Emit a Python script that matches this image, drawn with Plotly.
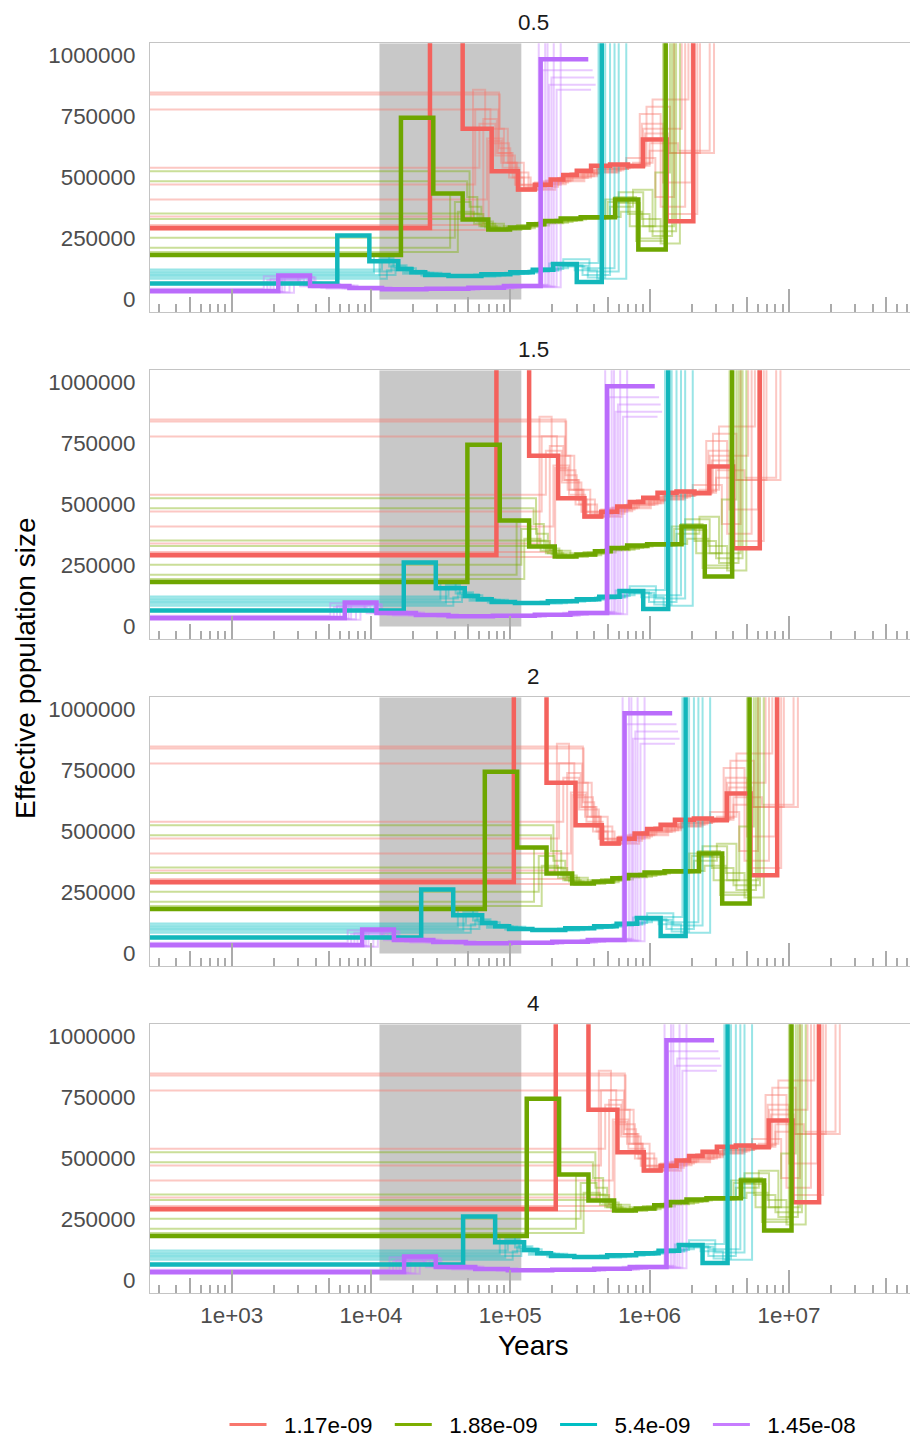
import plotly.graph_objects as go

# Generation times (years) shown in each facet
GEN_TIMES = [0.5, 1.5, 2, 4]
# Mutation rates (legend) and their colours
RATES = ["1.17e-09", "1.88e-09", "5.4e-09", "1.45e-08"]
COLORS = ["#F8766D", "#7CAE00", "#00BFC4", "#C77CFF"]
MAIN_COLORS = ["#F4625D", "#6EA600", "#12B7BB", "#BA6CFB"]

# Last glacial period, in years
GLACIAL = [11500, 120000]

# ---- main PSMC estimates: step start times (generations) and Ne per step ----
red_t = [20, 53000, 91000, 147000, 227000, 300000, 390000, 480000, 600000, 760000,
         1040000, 1400000, 1790000, 2650000, 4120000, 12000000]
red_ne = [293000, 2600000, 700000, 526000, 451000, 470000, 492000, 510000, 528000,
          548000, 553000, 546000, 656000, 321000, 2600000]

green_t = [20, 32800, 56000, 91000, 139000, 199000, 270000, 350000, 460000, 640000,
           1130000, 1660000, 2610000, 12000000]
green_ne = [182000, 745000, 434000, 328000, 287000, 295000, 308000, 322000, 332000,
            337000, 410000, 205000, 2600000]

cyan_t = [20, 11460, 19460, 31400, 39000, 49000, 72000, 124000, 200000, 290000,
          405000, 600000, 907000, 12000000]
cyan_ne = [66000, 262000, 157000, 125000, 112000, 100000, 96000, 103000, 112000,
           122000, 145000, 72000, 2600000]

purple_t = [20, 4320, 7300, 14000, 24000, 50000, 100000, 180000, 330400, 726000]
purple_ne = [35000, 98000, 55000, 47000, 42000, 44000, 48000, 55000, 985000]

# ---- bootstrap replicates ----
red_boot_t = [
    [20, 166000, 200000, 236000, 320000, 480000, 800000, 1400000, 1900000, 2800000, 4600000, 12000000],
    [20, 168000, 192000, 224000, 300000, 460000, 760000, 1300000, 1800000, 3400000, 12000000],
    [20, 164000, 208000, 250000, 360000, 560000, 900000, 1520000, 2100000, 3800000, 12000000],
    [20, 120000, 156000, 216000, 300000, 520000, 840000, 1440000, 2000000, 3200000, 5400000, 12000000],
    [20, 112000, 144000, 196000, 280000, 440000, 720000, 1240000, 1760000, 2500000, 4000000, 12000000],
    [20, 136000, 176000, 230000, 340000, 540000, 880000, 1360000, 2200000, 3000000, 12000000],
    [20, 108000, 132000, 180000, 250000, 400000, 660000, 1160000, 1700000, 2400000, 3600000, 12000000],
    [20, 128000, 160000, 204000, 270000, 420000, 680000, 1200000, 1860000, 2700000, 5800000, 12000000],
    [20, 140000, 172000, 220000, 320000, 500000, 840000, 1400000, 2000000, 2600000, 4400000, 12000000],
]
red_boot_ne = [
    [848000, 620000, 520000, 455000, 478000, 505000, 535000, 552000, 790000, 600000, 2600000],
    [840000, 700000, 560000, 445000, 470000, 500000, 530000, 545000, 700000, 2600000],
    [779000, 600000, 500000, 462000, 488000, 515000, 542000, 560000, 820000, 2600000],
    [540000, 720000, 590000, 470000, 480000, 512000, 538000, 548000, 640000, 610000, 2600000],
    [471000, 780000, 640000, 500000, 462000, 498000, 528000, 550000, 720000, 480000, 2600000],
    [410000, 660000, 540000, 450000, 485000, 518000, 545000, 580000, 420000, 2600000],
    [340000, 860000, 700000, 560000, 455000, 492000, 522000, 548000, 760000, 380000, 2600000],
    [305000, 740000, 600000, 520000, 450000, 485000, 520000, 545000, 680000, 600000, 2600000],
    [285000, 650000, 560000, 470000, 472000, 505000, 535000, 555000, 610000, 350000, 2600000],
]

green_boot_t = [
    [20, 102000, 124000, 160000, 220000, 340000, 600000, 1120000, 1600000, 2600000, 12000000],
    [20, 98000, 116000, 150000, 210000, 320000, 560000, 1040000, 1520000, 2100000, 2900000, 12000000],
    [20, 120000, 144000, 190000, 280000, 420000, 700000, 1200000, 1800000, 3000000, 12000000],
    [20, 132000, 168000, 224000, 360000, 640000, 1240000, 1760000, 2400000, 3300000, 12000000],
    [20, 80000, 104000, 136000, 190000, 300000, 520000, 1000000, 1440000, 2200000, 2800000, 12000000],
    [20, 74000, 92000, 128000, 180000, 280000, 480000, 960000, 1400000, 2000000, 3100000, 12000000],
    [20, 84000, 110000, 156000, 240000, 380000, 660000, 1160000, 1700000, 2500000, 12000000],
]
green_boot_ne = [
    [526000, 380000, 300000, 288000, 300000, 322000, 335000, 420000, 240000, 2600000],
    [485000, 420000, 320000, 292000, 298000, 318000, 332000, 380000, 450000, 260000, 2600000],
    [352000, 300000, 282000, 296000, 312000, 328000, 340000, 440000, 300000, 2600000],
    [330000, 295000, 290000, 305000, 325000, 338000, 360000, 330000, 230000, 2600000],
    [253000, 400000, 330000, 300000, 292000, 315000, 333000, 400000, 300000, 520000, 2600000],
    [212000, 430000, 350000, 310000, 290000, 312000, 330000, 410000, 350000, 280000, 2600000],
    [195000, 360000, 310000, 285000, 303000, 324000, 338000, 395000, 250000, 2600000],
]

cyan_boot_t = [
    [20, 24000, 31000, 42000, 60000, 110000, 200000, 340000, 520000, 860000, 12000000],
    [20, 28000, 36000, 48000, 72000, 140000, 250000, 420000, 660000, 1040000, 12000000],
    [20, 21000, 27000, 35000, 52000, 96000, 184000, 320000, 480000, 740000, 1200000, 12000000],
    [20, 30000, 40000, 56000, 90000, 170000, 280000, 460000, 720000, 960000, 12000000],
    [20, 23000, 29000, 39000, 64000, 124000, 230000, 380000, 580000, 840000, 1360000, 12000000],
    [20, 26000, 34000, 46000, 80000, 156000, 270000, 440000, 680000, 1120000, 12000000],
]
cyan_boot_ne = [
    [123000, 160000, 128000, 108000, 98000, 102000, 113000, 128000, 150000, 2600000],
    [115000, 140000, 118000, 104000, 96000, 105000, 117000, 140000, 100000, 2600000],
    [108000, 185000, 135000, 112000, 100000, 98000, 110000, 125000, 165000, 115000, 2600000],
    [100000, 128000, 110000, 100000, 95000, 106000, 120000, 138000, 90000, 2600000],
    [93000, 170000, 130000, 110000, 97000, 101000, 114000, 148000, 120000, 85000, 2600000],
    [85000, 120000, 106000, 98000, 94000, 104000, 119000, 135000, 128000, 2600000],
]

purple_boot_t = [
    [20, 3800, 6600, 13000, 30000, 80000, 180000, 340000, 780000],
    [20, 4800, 8000, 16000, 40000, 100000, 220000, 356000, 12000000],
    [20, 4000, 7600, 14000, 36000, 90000, 200000, 380000, 820000],
    [20, 5200, 8800, 18000, 44000, 120000, 240000, 410000, 12000000],
    [20, 3400, 6000, 12000, 28000, 70000, 160000, 320000, 12000000],
    [20, 4400, 7000, 15000, 32000, 84000, 190000, 430000, 760000],
    [20, 5600, 9600, 20000, 48000, 110000, 210000, 460000, 12000000],
    [20, 3600, 6200, 12500, 26000, 75000, 170000, 370000, 12000000],
    [20, 4600, 7800, 16000, 38000, 95000, 205000, 395000, 800000],
]
purple_boot_ne = [
    [40000, 85000, 58000, 46000, 43000, 47000, 55000, 940000],
    [32000, 90000, 52000, 44000, 41000, 48000, 58000, 2600000],
    [37000, 75000, 50000, 45000, 42000, 46000, 60000, 880000],
    [30000, 70000, 48000, 43000, 40000, 47000, 52000, 2600000],
    [44000, 95000, 62000, 50000, 44000, 48000, 56000, 2600000],
    [35000, 88000, 56000, 47000, 43000, 45000, 53000, 860000],
    [28000, 65000, 45000, 40000, 39000, 44000, 50000, 2600000],
    [38000, 80000, 54000, 46000, 42000, 46000, 54000, 2600000],
    [33000, 92000, 57000, 45000, 41000, 47000, 57000, 910000],
]

MAIN_T = [red_t, green_t, cyan_t, purple_t]
MAIN_NE = [red_ne, green_ne, cyan_ne, purple_ne]
BOOT_T = [red_boot_t, green_boot_t, cyan_boot_t, purple_boot_t]
BOOT_NE = [red_boot_ne, green_boot_ne, cyan_boot_ne, purple_boot_ne]

# Axis ticks
X_MAJOR = [1e2, 1e3, 1e4, 1e5, 1e6, 1e7, 1e8]
X_MAJOR_TEXT = ["1e+02", "1e+03", "1e+04", "1e+05", "1e+06", "1e+07", "1e+08"]
X_MID = [5 * v for v in X_MAJOR]
X_MINOR = [k * v for v in X_MAJOR for k in (2, 3, 4, 5, 6, 7, 8, 9)]
Y_TICKS = [0, 250000, 500000, 750000, 1000000]
Y_TICK_TEXT = ["0", "250000", "500000", "750000", "1000000"]

# ---- layout geometry (pixels) ----
W, H = 910, 1439
LEFT = 150
PANEL_TOPS = [43.3, 370.3, 697.3, 1024.3]
PANEL_H = 268.4
X_RANGE = [2.4135, 7.8693]
Y_RANGE = [-50000, 1050000]
FONT = "Liberation Sans, Arial, sans-serif"
TICK_GREY = "#ABABAB"
BORDER = "#C4C4C4"
NBSP = "\u00a0"


def px_to_paper_x(px):
    return (px - LEFT) / (W - LEFT)


def px_to_paper_y(py):
    return 1 - py / H


def step_xy(t, ne, g):
    return [v * g for v in t], list(ne) + [ne[-1]]


fig = go.Figure()

for i, g in enumerate(GEN_TIMES):
    xa = "x" if i == 0 else f"x{i + 1}"
    ya = "y" if i == 0 else f"y{i + 1}"

    # shaded glacial period
    fig.add_trace(go.Scatter(
        x=[GLACIAL[0], GLACIAL[1], GLACIAL[1], GLACIAL[0], GLACIAL[0]],
        y=[0, 0, Y_RANGE[1], Y_RANGE[1], 0],
        fill="toself", fillcolor="#C8C8C8", mode="lines", line=dict(width=0),
        hoverinfo="skip", showlegend=False, xaxis=xa, yaxis=ya))

    # bootstrap replicates
    for c in range(4):
        for bt, bn in zip(BOOT_T[c], BOOT_NE[c]):
            xs, ys = step_xy(bt, bn, g)
            fig.add_trace(go.Scatter(
                x=xs, y=ys, mode="lines",
                line=dict(color=COLORS[c], width=2, shape="hv"),
                opacity=0.4, hoverinfo="skip", showlegend=False,
                xaxis=xa, yaxis=ya))

    # main estimates
    for c in range(4):
        xs, ys = step_xy(MAIN_T[c], MAIN_NE[c], g)
        fig.add_trace(go.Scatter(
            x=xs, y=ys, mode="lines",
            line=dict(color=MAIN_COLORS[c], width=4.5, shape="hv"),
            showlegend=False, xaxis=xa, yaxis=ya))

    # helper trace so the mid-decade tick axis is drawn
    fig.add_trace(go.Scatter(x=[None], y=[None], mode="lines", showlegend=False,
                             hoverinfo="skip", xaxis=f"x{i + 5}", yaxis=ya))

    top = PANEL_TOPS[i]
    dom_y = [px_to_paper_y(top + PANEL_H), px_to_paper_y(top)]
    xkey = "xaxis" if i == 0 else f"xaxis{i + 1}"
    ykey = "yaxis" if i == 0 else f"yaxis{i + 1}"
    last = i == len(GEN_TIMES) - 1

    fig.layout[xkey] = dict(
        type="log", range=X_RANGE, domain=[0, 1], anchor=ya,
        tickmode="array", tickvals=X_MAJOR, ticktext=X_MAJOR_TEXT,
        showticklabels=last, ticks="inside", ticklen=23, tickwidth=1.5,
        tickcolor=TICK_GREY, ticklabelstandoff=2,
        tickfont=dict(size=22.4, color="#4D4D4D", family=FONT),
        minor=dict(tickmode="array", tickvals=X_MINOR, ticks="inside",
                   ticklen=8, tickwidth=1.5, tickcolor=TICK_GREY, showgrid=False),
        showgrid=False, zeroline=False, showline=True, mirror=True,
        linecolor=BORDER, linewidth=1.2,
    )
    fig.layout[f"xaxis{i + 5}"] = dict(
        type="log", range=X_RANGE, overlaying=xa, anchor=ya,
        tickmode="array", tickvals=X_MID, ticks="inside", ticklen=15,
        tickwidth=1.5, tickcolor=TICK_GREY, showticklabels=False,
        showgrid=False, zeroline=False, showline=False,
    )
    fig.layout[ykey] = dict(
        range=Y_RANGE, domain=dom_y, anchor=xa,
        tickmode="array", tickvals=Y_TICKS, ticktext=Y_TICK_TEXT,
        ticks="", ticklabelstandoff=9,
        tickfont=dict(size=22.4, color="#4D4D4D", family=FONT),
        showgrid=False, zeroline=False, showline=True, mirror=False,
        linecolor=BORDER, linewidth=1.2,
    )

    # facet strip title
    fig.add_annotation(
        text=str(g), xref="paper", yref="paper",
        x=px_to_paper_x(533), y=px_to_paper_y(top - 21),
        showarrow=False, xanchor="center", yanchor="middle",
        font=dict(size=22.4, color="#1A1A1A", family=FONT))

# legend entries (no-break spaces set the gaps around each label)
for c in range(4):
    fig.add_trace(go.Scatter(
        x=[None], y=[None], mode="lines",
        name=NBSP * 2 + RATES[c] + NBSP * 2,
        line=dict(color=COLORS[c], width=3), showlegend=True))

# axis titles
fig.add_annotation(
    text="Years", xref="paper", yref="paper",
    x=px_to_paper_x(533), y=px_to_paper_y(1345), showarrow=False,
    xanchor="center", yanchor="middle",
    font=dict(size=28, color="black", family=FONT))
fig.add_annotation(
    text="Effective population size", xref="paper", yref="paper",
    x=px_to_paper_x(25), y=px_to_paper_y(668), showarrow=False, textangle=-90,
    xanchor="center", yanchor="middle",
    font=dict(size=28, color="black", family=FONT))

fig.update_layout(
    width=W, height=H,
    margin=dict(l=LEFT, r=0, t=0, b=0, autoexpand=False),
    plot_bgcolor="white", paper_bgcolor="white",
    font=dict(family=FONT, color="black"),
    legend=dict(orientation="h", x=px_to_paper_x(549), xanchor="center",
                y=px_to_paper_y(1425), yanchor="middle", itemwidth=37,
                font=dict(size=22.4, color="black", family=FONT),
                bgcolor="rgba(0,0,0,0)"),
)

fig.write_html("out.html")
